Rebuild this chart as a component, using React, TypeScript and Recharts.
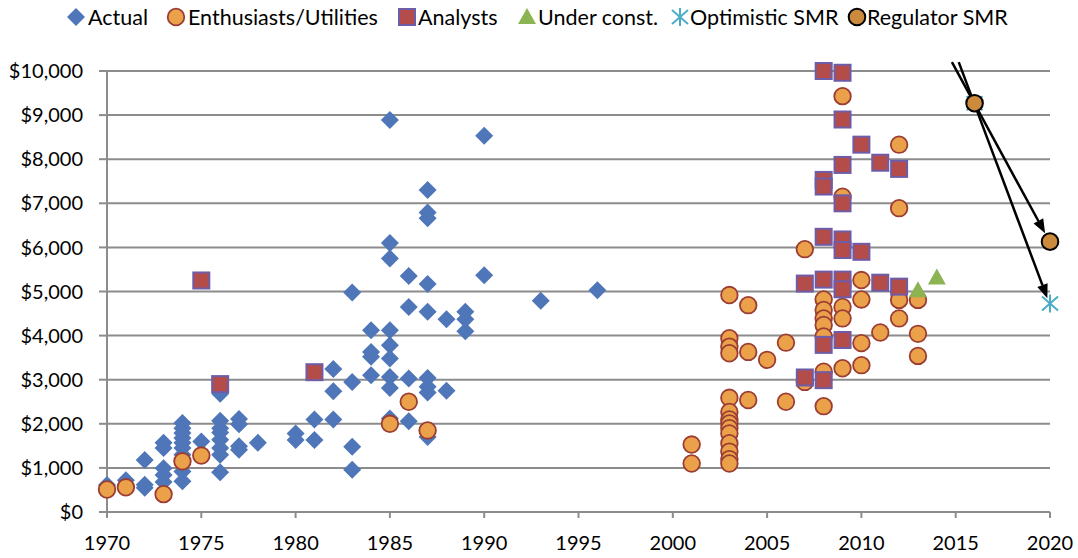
import React from 'react';
import { ScatterChart, Scatter, XAxis, YAxis, CartesianGrid, ReferenceLine } from 'recharts';

// [year, cost per kW]
const actual: [number, number][] = [
  [1970, 610], [1971, 720],
  [1972, 1180], [1972, 620], [1972, 550],
  [1973, 1570], [1973, 1450], [1973, 990], [1973, 840], [1973, 680],
  [1974, 2020], [1974, 1900], [1974, 1790], [1974, 1680], [1974, 1570], [1974, 1450], [1974, 1300], [1974, 1150], [1974, 920], [1974, 700],
  [1975, 1600],
  [1976, 2680], [1976, 2070], [1976, 1900], [1976, 1800], [1976, 1640], [1976, 1450], [1976, 1300], [1976, 900],
  [1977, 2110], [1977, 1990], [1977, 1490], [1977, 1410],
  [1978, 1570],
  [1980, 1780], [1980, 1630],
  [1981, 2100], [1981, 1630],
  [1982, 3240], [1982, 2740], [1982, 2100],
  [1983, 4980], [1983, 2950], [1983, 1480], [1983, 960],
  [1984, 4120], [1984, 3630], [1984, 3520], [1984, 3100],
  [1985, 8890], [1985, 6100], [1985, 5750], [1985, 4120], [1985, 3780], [1985, 3480], [1985, 3060], [1985, 2810], [1985, 2120],
  [1986, 5350], [1986, 4650], [1986, 3030], [1986, 2060],
  [1987, 7300], [1987, 6790], [1987, 6660], [1987, 5170], [1987, 4540], [1987, 3040], [1987, 2840], [1987, 2710], [1987, 1700],
  [1988, 4370], [1988, 2750],
  [1989, 4540], [1989, 4370], [1989, 4100],
  [1990, 8530], [1990, 5370],
  [1993, 4790],
  [1996, 5030],
];

const enthusiasts: [number, number][] = [
  [1970, 510], [1971, 560], [1973, 405], [1974, 1150], [1975, 1280],
  [1985, 2000], [1986, 2500], [1987, 1850],
  [2001, 1530], [2001, 1100],
  [2003, 4920], [2003, 3940], [2003, 3750], [2003, 3600], [2003, 2590], [2003, 2270], [2003, 2100], [2003, 2010],
  [2003, 1900], [2003, 1780], [2003, 1560], [2003, 1370], [2003, 1200], [2003, 1100],
  [2004, 4690], [2004, 3630], [2004, 2540],
  [2005, 3450],
  [2006, 3840], [2006, 2500],
  [2007, 5960], [2007, 2950],
  [2008, 4820], [2008, 4580], [2008, 4390], [2008, 4240], [2008, 3980], [2008, 3180], [2008, 2400],
  [2009, 9430], [2009, 7150], [2009, 4650], [2009, 4390], [2009, 3260],
  [2010, 5260], [2010, 4820], [2010, 3830], [2010, 3330],
  [2011, 4070],
  [2012, 8330], [2012, 6890], [2012, 4810], [2012, 4390],
  [2013, 4810], [2013, 4040], [2013, 3540],
];

const analysts: [number, number][] = [
  [1975, 5250], [1976, 2900], [1981, 3170],
  [2007, 5180], [2007, 3050],
  [2008, 10000], [2008, 7530], [2008, 7380], [2008, 6240], [2008, 5270], [2008, 3790], [2008, 2990],
  [2009, 9960], [2009, 8900], [2009, 7870], [2009, 7000], [2009, 6180], [2009, 5940], [2009, 5270], [2009, 5050], [2009, 3900],
  [2010, 8330], [2010, 5900],
  [2011, 7920], [2011, 5200],
  [2012, 7780], [2012, 5110],
];

const underConst: [number, number][] = [[2013, 5030], [2014, 5320]];
const optimisticSmr: [number, number][] = [[2016, 9270], [2020, 4730]];
const regulatorSmr: [number, number][] = [[2016, 9270], [2020, 6130]];

// arrows drawn through the 2016 estimate
const arrowToRegulator: [number, number][] = [[2014.8, 10200], [2019.74, 6320]];
const arrowToOptimistic: [number, number][] = [[2015.16, 10200], [2019.86, 4846]];

const xTicks = [1970, 1975, 1980, 1985, 1990, 1995, 2000, 2005, 2010, 2015, 2020];
const yTicks = [0, 1000, 2000, 3000, 4000, 5000, 6000, 7000, 8000, 9000, 10000];

const toPoints = (rows: [number, number][]) => rows.map(([x, y]) => ({ x, y }));

const FONT = 'Lato, "Open Sans", sans-serif';
const GRID = '#8c8c8c';

const Diamond = ({ cx, cy }: any) => (
  <polygon points={`${cx},${cy - 9} ${cx + 9},${cy} ${cx},${cy + 9} ${cx - 9},${cy}`} fill="#4f76b8" />
);
const Circle = ({ cx, cy }: any) => (
  <circle cx={cx} cy={cy} r={8.3} fill="#eba04a" stroke="#9c3d33" strokeWidth={1.8} />
);
const Square = ({ cx, cy }: any) => (
  <rect x={cx - 8} y={cy - 8} width={16} height={16} fill="#b44c49" stroke="#6f5ca8" strokeWidth={2} />
);
const Triangle = ({ cx, cy }: any) => (
  <polygon points={`${cx},${cy - 9} ${cx + 9},${cy + 7} ${cx - 9},${cy + 7}`} fill="#8db452" />
);
const Asterisk = ({ cx, cy }: any) => (
  <g stroke="#4bacc6" strokeWidth={2}>
    <line x1={cx} y1={cy - 9} x2={cx} y2={cy + 9} />
    <line x1={cx - 8} y1={cy - 7} x2={cx + 8} y2={cy + 7} />
    <line x1={cx - 8} y1={cy + 7} x2={cx + 8} y2={cy - 7} />
  </g>
);
const RegCircle = ({ cx, cy }: any) => (
  <circle cx={cx} cy={cy} r={8.3} fill="#cc8a3c" stroke="#000" strokeWidth={2} />
);

const Arrow = (p: any) => {
  const { x1, y1, x2, y2 } = p;
  const ang = Math.atan2(y2 - y1, x2 - x1);
  const len = 14;
  const w = 5.5;
  const bx = x2 - len * Math.cos(ang);
  const by = y2 - len * Math.sin(ang);
  const px = -Math.sin(ang) * w;
  const py = Math.cos(ang) * w;
  return (
    <g>
      <line x1={x1} y1={y1} x2={bx} y2={by} stroke="#000" strokeWidth={2.5} />
      <polygon points={`${x2},${y2} ${bx + px},${by + py} ${bx - px},${by - py}`} fill="#000" />
    </g>
  );
};

const legendItems = [
  { label: 'Actual', Icon: Diamond, icon: 76, text: 88 },
  { label: 'Enthusiasts/Utilities', Icon: Circle, icon: 176, text: 188 },
  { label: 'Analysts', Icon: Square, icon: 407, text: 418 },
  { label: 'Under const.', Icon: Triangle, icon: 527, text: 538 },
  { label: 'Optimistic SMR', Icon: Asterisk, icon: 680, text: 690 },
  { label: 'Regulator SMR', Icon: RegCircle, icon: 857, text: 867 },
];

function ChartLegend() {
  return (
    <div style={{ position: 'absolute', left: 0, top: 0, width: 1078, height: 36, fontFamily: FONT, fontSize: 21.5, color: '#000' }}>
      {legendItems.map(({ label, Icon, icon, text }) => (
        <React.Fragment key={label}>
          <svg width={20} height={20} style={{ position: 'absolute', left: icon - 10, top: 7 }}>
            <Icon cx={10} cy={10} />
          </svg>
          <span style={{ position: 'absolute', left: text, top: 4, lineHeight: '26px', whiteSpace: 'nowrap' }}>{label}</span>
        </React.Fragment>
      ))}
    </div>
  );
}

export default function App() {
  return (
    <div style={{ position: 'absolute', left: 0, top: 0, width: 1078, height: 558, background: '#fff' }}>
      <ChartLegend />
      <ScatterChart width={1078} height={558} margin={{ top: 71, right: 28, bottom: 0, left: 0 }}>
        <CartesianGrid vertical={false} stroke={GRID} strokeWidth={2} />
        <XAxis
          type="number"
          dataKey="x"
          domain={[1970, 2020]}
          ticks={xTicks}
          height={46}
          tickSize={6}
          tickMargin={18}
          stroke={GRID}
          strokeWidth={2}
          tick={{ fill: '#000', fontSize: 20, fontFamily: FONT }}
        />
        <YAxis
          type="number"
          dataKey="y"
          domain={[0, 10000]}
          ticks={yTicks}
          width={107}
          tickSize={8}
          tickMargin={16}
          stroke={GRID}
          strokeWidth={2}
          tickFormatter={(v: number) => `$${v.toLocaleString('en-US')}`}
          tick={{ fill: '#000', fontSize: 20, fontFamily: FONT }}
        />
        <Scatter name="Actual" data={toPoints(actual)} shape={Diamond} isAnimationActive={false} />
        <Scatter name="Enthusiasts/Utilities" data={toPoints(enthusiasts)} shape={Circle} isAnimationActive={false} />
        <Scatter name="Analysts" data={toPoints(analysts)} shape={Square} isAnimationActive={false} />
        <Scatter name="Under const." data={toPoints(underConst)} shape={Triangle} isAnimationActive={false} />
        <Scatter name="Optimistic SMR" data={toPoints(optimisticSmr)} shape={Asterisk} isAnimationActive={false} />
        <Scatter name="Regulator SMR" data={toPoints(regulatorSmr)} shape={RegCircle} isAnimationActive={false} />
        <ReferenceLine
          segment={toPoints(arrowToRegulator)}
          ifOverflow="visible"
          shape={Arrow}
        />
        <ReferenceLine
          segment={toPoints(arrowToOptimistic)}
          ifOverflow="visible"
          shape={Arrow}
        />
      </ScatterChart>
    </div>
  );
}
